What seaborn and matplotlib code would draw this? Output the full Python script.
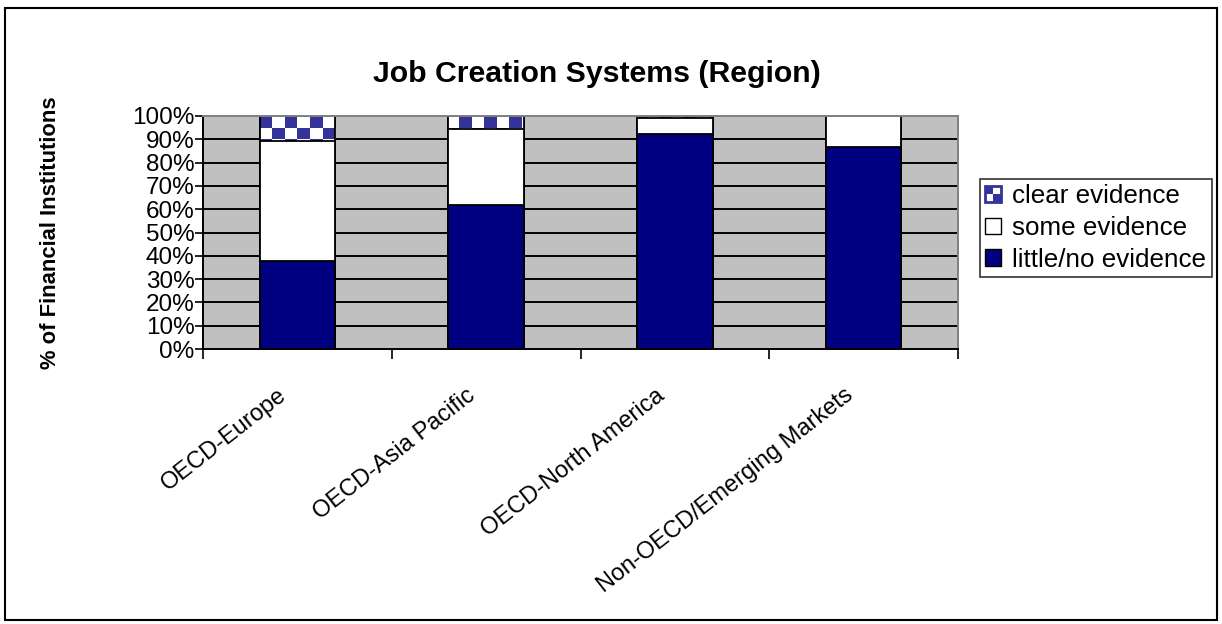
import numpy as np
import pandas as pd
import matplotlib
matplotlib.use("Agg")
import matplotlib.pyplot as plt
from matplotlib.patches import Rectangle, Patch
from matplotlib.legend_handler import HandlerBase
from matplotlib.transforms import ScaledTranslation
import seaborn as sns

# Share of financial institutions (%) by evidence level
regions = ["OECD-Europe", "OECD-Asia Pacific", "OECD-North America",
           "Non-OECD/Emerging Markets"]
little_no = [37.8, 61.8, 92.3, 86.7]
some = [51.5, 32.5, 7.0, 13.3]
clear = [10.7, 5.7, 0.7, 0.0]

NAVY = "#000080"
CHECK = "#333399"
GRID_BG = "#c0c0c0"

sns.set_theme(style="white")
plt.rcParams["font.family"] = ["Liberation Sans", "DejaVu Sans"]
for key in ["text.color", "axes.labelcolor", "xtick.color", "ytick.color"]:
    plt.rcParams[key] = "black"

df = pd.DataFrame({"region": regions, "little": little_no,
                   "some": some, "clear": clear})
df["cum_some"] = df["little"] + df["some"]
df["cum_clear"] = df["cum_some"] + df["clear"]

fig = plt.figure(figsize=(12.22, 6.24), dpi=100)
ax = fig.add_axes([203 / 1222, 1 - 349 / 624, 755 / 1222, 233 / 624])
ax.set_facecolor(GRID_BG)

bar_w = 0.4
# stacked bars drawn from the top segment down
sns.barplot(data=df, x="region", y="cum_clear", color="white", width=bar_w,
            edgecolor="black", linewidth=1.3, saturation=1, ax=ax, zorder=2)
clear_patches = list(ax.patches)
sns.barplot(data=df, x="region", y="cum_some", color="white", width=bar_w,
            edgecolor="black", linewidth=1.3, saturation=1, ax=ax, zorder=3)
sns.barplot(data=df, x="region", y="little", color=NAVY, width=bar_w,
            edgecolor="black", linewidth=1.3, saturation=1, ax=ax, zorder=4)

ax.set_xlim(-0.5, 3.5)
ax.set_ylim(0, 100)

# checkerboard texture for the "clear evidence" segments
cell_w, cell_h = 12.5, 11.7
nx = int(np.ceil(755 / cell_w)) + 1
ny = int(np.ceil(233 / cell_h)) + 1
board = (np.add.outer(np.arange(ny), np.arange(nx)) % 2).astype(float)
cmap = matplotlib.colors.ListedColormap(["white", CHECK])
for p in clear_patches:
    im = ax.imshow(board, cmap=cmap, interpolation="nearest", aspect="auto",
                   extent=(-0.5 - 0.5 * cell_w / 755 * 4,
                           -0.5 + (nx - 0.5) * cell_w / 755 * 4,
                           100 - ny * cell_h / 233 * 100, 100),
                   origin="upper", zorder=2.5)
    im.set_clip_path(p)
    edge = Rectangle(p.get_xy(), p.get_width(), p.get_height(),
                     facecolor="none", edgecolor="black", linewidth=1.3,
                     zorder=2.6)
    ax.add_patch(edge)
ax.set_xlim(-0.5, 3.5)
ax.set_ylim(0, 100)

# horizontal gridlines
for v in range(10, 100, 10):
    ax.axhline(v, color="black", linewidth=1.4, zorder=1)

ax.set_yticks(np.arange(0, 101, 10))
ax.set_yticklabels([f"{v}%" for v in range(0, 101, 10)], fontsize=17.5)
ax.tick_params(axis="y", direction="out", length=6, width=1.2,
               color="black", left=True, pad=0)

ax.set_xticks(range(4))
ax.set_xticklabels(regions, rotation=38, ha="right", va="top",
                   rotation_mode="anchor", fontsize=17)
ax.tick_params(axis="x", which="major", length=0, pad=6)
shift = ScaledTranslation(-20 / 100, -27 / 100, fig.dpi_scale_trans)
for lbl in ax.get_xticklabels():
    lbl.set_transform(lbl.get_transform() + shift)
ax.set_xticks([0.5, 1.5, 2.5, 3.5, -0.5], minor=True)
ax.tick_params(axis="x", which="minor", direction="out", length=7,
               width=1.2, color="black", bottom=True)

for side in ["top", "right"]:
    ax.spines[side].set_color("#808080")
    ax.spines[side].set_linewidth(1.4)
for side in ["left", "bottom"]:
    ax.spines[side].set_color("black")
    ax.spines[side].set_linewidth(1.4)
for s in ax.spines.values():
    s.set_zorder(6)

ax.set_xlabel("")
ax.set_ylabel("% of Financial Institutions", fontsize=15.8,
              fontweight="bold")
ax.yaxis.set_label_coords((61 - 203) / 755, 0.5)

fig.text(597 / 1222, 1 - 74 / 624, "Job Creation Systems (Region)",
         ha="center", va="center", fontsize=21.8, fontweight="bold")


class CheckerHandler(HandlerBase):
    def create_artists(self, legend, orig_handle, xdescent, ydescent,
                       width, height, fontsize, trans):
        x0, y0 = -xdescent, -ydescent
        w, h = width, height
        arts = [Rectangle((x0, y0), w, h, facecolor="white",
                          edgecolor="none", transform=trans),
                Rectangle((x0, y0 + h / 2), w / 2, h / 2, facecolor=CHECK,
                          edgecolor="none", transform=trans),
                Rectangle((x0 + w / 2, y0), w / 2, h / 2, facecolor=CHECK,
                          edgecolor="none", transform=trans),
                Rectangle((x0, y0), w, h, facecolor="none",
                          edgecolor=CHECK, linewidth=2, transform=trans)]
        return arts


h_clear = Patch(facecolor="white", edgecolor="black")
h_some = Patch(facecolor="white", edgecolor="black", linewidth=1)
h_little = Patch(facecolor=NAVY, edgecolor="black", linewidth=1)
leg = fig.legend([h_clear, h_some, h_little],
                 ["clear evidence", "some evidence", "little/no evidence"],
                 handler_map={h_clear: CheckerHandler()},
                 loc="upper left",
                 bbox_to_anchor=(980 / 1222, 1 - 179 / 624),
                 fontsize=18.7, frameon=True, fancybox=False,
                 edgecolor="black", handlelength=0.6, handleheight=0.6,
                 handletextpad=0.45, labelspacing=0.3, borderpad=0.2,
                 borderaxespad=0)
leg.get_frame().set_linewidth(1.2)

# outer chart frame
fig.patches.append(Rectangle((5 / 1222, 1 - 620 / 624), 1212 / 1222,
                             612 / 624, transform=fig.transFigure,
                             facecolor="none", edgecolor="black",
                             linewidth=1.5))

fig.savefig("out.png", dpi=100, facecolor="white")
